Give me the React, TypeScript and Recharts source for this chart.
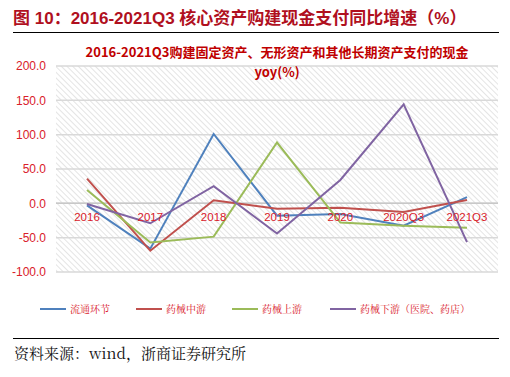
import { LineChart, Line, XAxis, YAxis, CartesianGrid, ReferenceLine } from "recharts";

// 类别（横轴）
const categories = ["2016", "2017", "2018", "2019", "2020", "2020Q3", "2021Q3"];

// 各系列同比增速（%）
const liutong = [-3, -66, 101, -18, -15.5, -32.5, 9];
const zhongyou = [36, -69, 4.5, -8, -6.5, -12.5, 5];
const shangyou = [19.5, -57, -48.5, 88.5, -28, -32.5, -35.5];
const xiayou = [-1, -29, 25, -44, 34, 144, -56.5];

const seriesNames = ["流通环节", "药械中游", "药械上游", "药械下游（医院、药店）"];
const seriesColors = ["#4f81bd", "#c0504d", "#9bbb59", "#8064a2"];
const seriesKeys = ["a", "b", "c", "d"];

const yTicks = [-100, -50, 0, 50, 100, 150, 200];

const data = categories.map((name, i) => ({
  name,
  a: liutong[i],
  b: zhongyou[i],
  c: shangyou[i],
  d: xiayou[i],
}));

// 横轴标签画在零轴下方
const CategoryTick = (props: any) => {
  const { x, y, payload } = props;
  return (
    <text
      x={x}
      y={y}
      dy={-59}
      textAnchor="middle"
      fill="#d9202a"
      fontSize={11.5}
      fontFamily="Liberation Sans, Arial, sans-serif"
    >
      {payload.value}
    </text>
  );
};

export default function App() {
  return (
    <div
      style={{
        position: "absolute",
        left: 0,
        top: 0,
        width: 510,
        height: 377,
        background: "#fff",
        overflow: "hidden",
        fontFamily: "Liberation Sans, Arial, sans-serif",
      }}
    >
      {/* 图标题 */}
      <div
        style={{
          position: "absolute",
          left: 13,
          top: 4,
          fontSize: 17,
          fontWeight: "bold",
          color: "#b0101e",
          fontFamily: "Liberation Sans, 'Noto Sans CJK SC', sans-serif",
          whiteSpace: "nowrap",
        }}
      >
        图 10：2016-2021Q3 核心资产购建现金支付同比增速（%）
      </div>
      <div style={{ position: "absolute", left: 13, top: 32, width: 486, height: 1, background: "#000" }} />

      <LineChart
        width={510}
        height={280}
        data={data}
        margin={{ top: 66, right: 12, bottom: 0, left: 6 }}
        style={{ position: "absolute", left: 0, top: 0 }}
      >
        <defs>
          <pattern id="hatch" width="4" height="4" patternUnits="userSpaceOnUse" patternTransform="rotate(-45)">
            <rect width="4" height="4" fill="#ffffff" />
            <line x1="0" y1="0" x2="0" y2="4" stroke="#dcdcdc" strokeWidth="1.5" />
          </pattern>
        </defs>
        <CartesianGrid vertical={false} fill="url(#hatch)" stroke="#d9d9d9" strokeWidth={1.5} />
        <XAxis
          dataKey="name"
          height={8}
          axisLine={false}
          tickLine={false}
          tick={<CategoryTick />}
          interval={0}
          padding={{ left: 31, right: 31 }}
        />
        <YAxis
          domain={[-100, 200]}
          ticks={yTicks}
          width={50}
          axisLine={false}
          tickLine={false}
          tickMargin={4}
          tickFormatter={(v: number) => v.toFixed(1)}
          tick={{ fill: "#d9202a", fontSize: 12, fontFamily: "Liberation Sans, Arial, sans-serif" }}
        />
        <ReferenceLine y={0} stroke="#c8c8c8" strokeWidth={1.5} />
        {seriesKeys.map((k, i) => (
          <Line
            key={k}
            type="linear"
            dataKey={k}
            name={seriesNames[i]}
            stroke={seriesColors[i]}
            strokeWidth={2}
            dot={false}
            isAnimationActive={false}
          />
        ))}
      </LineChart>

      {/* 图内标题 */}
      <div
        style={{
          position: "absolute",
          left: 56,
          width: 442,
          top: 42,
          textAlign: "center",
          fontSize: 13,
          fontWeight: "bold",
          lineHeight: "20px",
          color: "#c00000",
          fontFamily: "'Noto Sans CJK SC', sans-serif",
        }}
      >
        2016-2021Q3购建固定资产、无形资产和其他长期资产支付的现金
        <br />
        yoy(%)
      </div>

      {/* 图例 */}
      {seriesNames.map((n, i) => (
        <div
          key={n}
          style={{
            position: "absolute",
            left: [40, 136, 232, 330][i],
            top: 301,
            display: "flex",
            alignItems: "center",
            whiteSpace: "nowrap",
          }}
        >
          <div style={{ width: 26, height: 2, background: seriesColors[i], marginRight: 4 }} />
          <span style={{ fontSize: 10, color: "#d9202a", fontFamily: "'Noto Serif CJK SC', 'Noto Sans CJK SC', serif" }}>
            {n}
          </span>
        </div>
      ))}

      <div style={{ position: "absolute", left: 13, top: 338, width: 486, height: 1, background: "#000" }} />
      <div
        style={{
          position: "absolute",
          left: 14,
          top: 342,
          fontSize: 15,
          color: "#111",
          fontFamily: "'Noto Serif CJK SC', 'Noto Sans CJK SC', serif",
          whiteSpace: "nowrap",
        }}
      >
        资料来源：wind，浙商证券研究所
      </div>
    </div>
  );
}
